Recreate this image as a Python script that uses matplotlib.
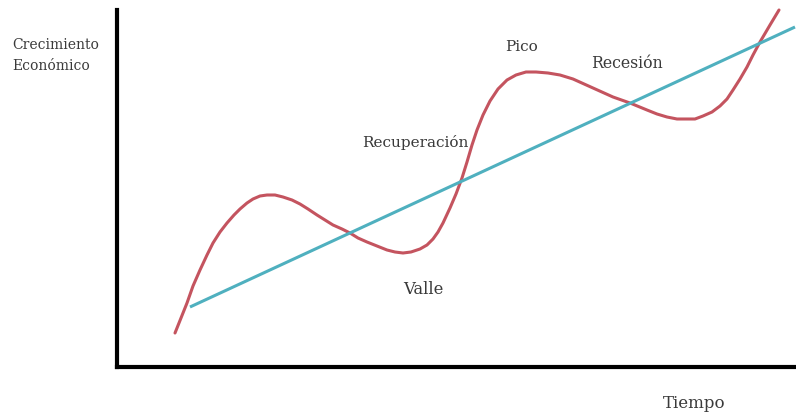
import matplotlib
matplotlib.use("Agg")
import matplotlib.pyplot as plt

# ciclo economico (tiempo, crecimiento)
tiempo = [58, 64, 70, 76, 83, 90, 96, 103, 110, 117, 123, 130, 136, 143, 150, 158,
          166, 175, 183, 191, 200, 208, 216, 225, 233, 241, 250, 260, 270, 278, 286,
          294, 303, 310, 316, 321, 326, 333, 339, 345, 350, 355, 360, 366, 373, 381,
          390, 399, 409, 419, 431, 443, 456, 476, 496, 513, 530, 540, 550, 560, 570,
          578, 586, 595, 603, 610, 616, 623, 630, 636, 643, 653, 662]
ciclo = [34, 49, 64, 81, 97, 112, 124, 135, 144, 152, 158, 164, 168, 171, 172, 172,
         170, 167, 163, 158, 152, 147, 142, 138, 134, 129, 125, 121, 117, 115, 114,
         115, 118, 122, 128, 135, 144, 159, 173, 189, 205, 222, 237, 252, 266, 278,
         287, 292, 295, 295, 294, 292, 288, 279, 270, 264, 257, 253, 250, 248, 248,
         248, 251, 255, 261, 268, 277, 288, 300, 312, 325, 342, 357]

# tendencia
tend_t = [73, 678]
tend_y = [60, 340]

etiquetas = ["Recuperación", "Pico", "Recesión", "Valle"]
etiq_t = [245, 405, 510, 306]
etiq_y = [224, 320, 304, 77]

W, H = 796, 416
x0, y0 = 117, 367

fig = plt.figure(figsize=(7.96, 4.16), dpi=100)
ax = fig.add_axes([x0 / W, (H - y0) / H, 1 - x0 / W, y0 / H])
ax.set_xlim(0, W - x0)
ax.set_ylim(0, y0)

ax.plot(tiempo, ciclo, color='#c4545f', lw=2.2, solid_joinstyle='round',
        solid_capstyle='round', clip_on=False)
ax.plot(tend_t, tend_y, color='#4fb0bf', lw=2.2, solid_capstyle='butt')

txt = dict(family='DejaVu Serif', color='#3a3a3a')
ax.text(etiq_t[0], etiq_y[0], etiquetas[0], ha='left', va='center', fontsize=11, **txt)
ax.text(etiq_t[1], etiq_y[1], etiquetas[1], ha='center', va='center', fontsize=11, **txt)
ax.text(etiq_t[2], etiq_y[2], etiquetas[2], ha='center', va='center', fontsize=11.3, **txt)
ax.text(etiq_t[3], etiq_y[3], etiquetas[3], ha='center', va='center', fontsize=11.8, **txt)

fig.text(12 / W, 1 - 45 / H, "Crecimiento", ha='left', va='center', fontsize=10, **txt)
fig.text(12 / W, 1 - 66 / H, "Económico", ha='left', va='center', fontsize=10, **txt)
fig.text(694 / W, 1 - 403 / H, "Tiempo", ha='center', va='center', fontsize=12, **txt)

for s in ['top', 'right']:
    ax.spines[s].set_visible(False)
for s in ['left', 'bottom']:
    ax.spines[s].set_linewidth(3)
    ax.spines[s].set_color('black')
    ax.spines[s].set_capstyle('projecting')
ax.spines['left'].set_bounds(0, y0 - 10)
ax.set_xticks([])
ax.set_yticks([])

fig.savefig('out.png', dpi=100)
